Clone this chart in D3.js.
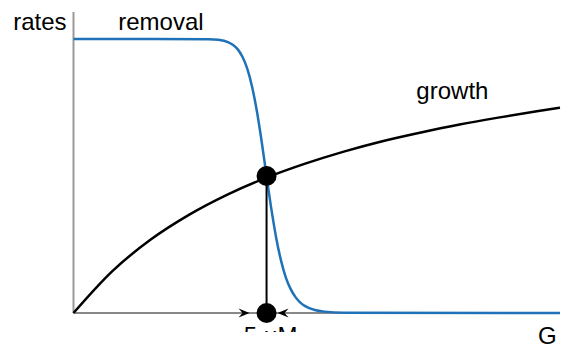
<!DOCTYPE html>
<html>
<head>
<meta charset="utf-8">
<script src="https://cdn.jsdelivr.net/npm/d3@7"></script>
<style>
  body { margin: 0; background: #fff; }
  text { font-family: "Liberation Sans", Arial, sans-serif; font-size: 24px; fill: #000; }
</style>
</head>
<body>
<div id="chart"></div>
<script>
// dimensioni
const width = 568;
const height = 349;

// dati (G in μM, tassi normalizzati)
const growthG = [0, 1, 2, 3, 4, 5, 6, 7, 8, 9, 10, 11, 12, 12.6];
const growthRate = [0, 0.152, 0.268, 0.359, 0.433, 0.494, 0.545, 0.589, 0.627, 0.659, 0.688, 0.713, 0.736, 0.749];

const removalG = [0, 3.5, 3.75, 4, 4.125, 4.25, 4.375, 4.5, 4.625, 4.75, 4.875, 5, 5.125, 5.25, 5.375, 5.5, 5.625, 5.75, 5.875, 6, 6.25, 6.5, 7, 12.6];
const removalRate = [1, 0.999, 0.997, 0.989, 0.979, 0.963, 0.935, 0.892, 0.826, 0.736, 0.624, 0.5, 0.379, 0.274, 0.191, 0.129, 0.087, 0.058, 0.038, 0.025, 0.011, 0.005, 0.001, 0];

const fixedG = 5;       // punto di equilibrio
const fixedRate = 0.5;
const fixedLabel = "5 μM";

const labels = [
  { text: "rates", g: -1.56, r: 1.033 },
  { text: "removal", g: 1.16, r: 1.033 },
  { text: "growth", g: 8.88, r: 0.78 }
];

const svg = d3.select("#chart")
  .append("svg")
  .attr("width", width)
  .attr("height", height);

const x = d3.scaleLinear().domain([0, 12.6]).range([73.5, 560]);
const y = d3.scaleLinear().domain([0, 1]).range([313, 39]);

// assi
svg.append("line")
  .attr("x1", x(0)).attr("x2", x(0))
  .attr("y1", 12).attr("y2", y(0))
  .attr("stroke", "#999").attr("stroke-width", 2);
svg.append("line")
  .attr("x1", x(0)).attr("x2", x(12.6))
  .attr("y1", y(0)).attr("y2", y(0))
  .attr("stroke", "#888").attr("stroke-width", 2);

const line = d3.line().curve(d3.curveMonotoneX);

// curva di rimozione
svg.append("path")
  .attr("d", line(removalG.map((g, i) => [x(g), y(removalRate[i])])))
  .attr("fill", "none")
  .attr("stroke", "#1f72b8")
  .attr("stroke-width", 2.5);

// curva di crescita
svg.append("path")
  .attr("d", line(growthG.map((g, i) => [x(g), y(growthRate[i])])))
  .attr("fill", "none")
  .attr("stroke", "#000")
  .attr("stroke-width", 2.5);

// linea verticale al punto fisso
svg.append("line")
  .attr("x1", x(fixedG)).attr("x2", x(fixedG))
  .attr("y1", y(fixedRate)).attr("y2", y(0))
  .attr("stroke", "#000").attr("stroke-width", 2);

// frecce verso il punto fisso
const arrow = (tip, dir) => {
  const back = tip - dir * 11;
  const notch = tip - dir * 7;
  const yy = y(0);
  return `M${tip},${yy} L${back},${yy - 4.5} L${notch},${yy} L${back},${yy + 4.5} Z`;
};
svg.append("path").attr("d", arrow(x(fixedG) - 17, 1)).attr("fill", "#000");
svg.append("path").attr("d", arrow(x(fixedG) + 11, -1)).attr("fill", "#000");

// punti
svg.selectAll("circle.pt")
  .data([fixedRate, 0])
  .enter().append("circle")
  .attr("class", "pt")
  .attr("cx", x(fixedG))
  .attr("cy", d => y(d))
  .attr("r", 10)
  .attr("fill", "#000");

// etichette
svg.selectAll("text.lbl")
  .data(labels)
  .enter().append("text")
  .attr("class", "lbl")
  .attr("x", d => x(d.g))
  .attr("y", d => y(d.r))
  .text(d => d.text);

svg.append("text")
  .attr("x", 538)
  .attr("y", 344)
  .text("G");

// etichetta tagliata in basso
svg.append("clipPath").attr("id", "cut")
  .append("rect").attr("x", 0).attr("y", 0).attr("width", width).attr("height", 332);
svg.append("text")
  .attr("x", x(fixedG) + 4)
  .attr("y", 344)
  .attr("text-anchor", "middle")
  .attr("clip-path", "url(#cut)")
  .text(fixedLabel);
</script>
</body>
</html>
